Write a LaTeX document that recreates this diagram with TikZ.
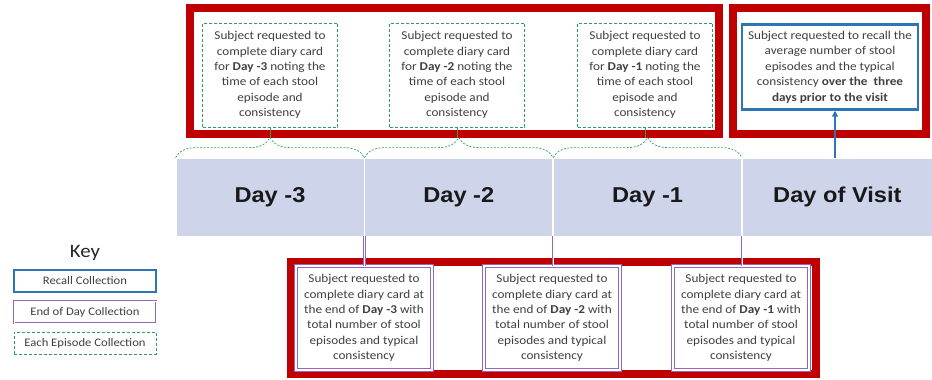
\documentclass[tikz,border=0pt]{standalone}
\usepackage{fontspec}
\setmainfont{Carlito}[FakeStretch=1.1]
\newfontfamily\dayfont{Liberation Sans}[FakeStretch=1.1]
\usepackage{xcolor}
\usetikzlibrary{positioning,arrows.meta,decorations.pathreplacing}

\definecolor{framered}{RGB}{192,0,0}
\definecolor{episodegreen}{RGB}{46,158,96}
\definecolor{recallblue}{RGB}{46,117,182}
\definecolor{eodpurple}{RGB}{146,104,186}
\definecolor{dayfill}{RGB}{206,212,234}
\definecolor{boxtext}{RGB}{64,64,64}

\begin{document}
\begin{tikzpicture}[x=1pt, y=-1pt, semithick, inner sep=2pt,
    frame/.style={draw=framered, line width=8pt},
    episode/.style={draw=episodegreen, dashed, dash pattern=on 3pt off 2pt, thick, fill=white,
      minimum width=135, minimum height=104, align=center, text=boxtext,
      font=\fontsize{12}{15.4}\selectfont},
    endofday/.style={draw=eodpurple, double=white, double distance=1.2pt, line width=1pt, fill=white,
      minimum width=136, minimum height=104, align=center, text=boxtext,
      font=\fontsize{12}{15.4}\selectfont},
    recall/.style={draw=recallblue, line width=2.4pt, fill=white,
      minimum width=176, minimum height=85, align=center, text=boxtext,
      font=\fontsize{12}{15.4}\selectfont},
    day/.style={fill=dayfill, draw=white, line width=0.8pt, minimum width=188, minimum height=78,
      font=\dayfont\bfseries\fontsize{21.5}{24}\selectfont, text=black!90},
    bracket/.style={draw=episodegreen, line width=0.7pt, dashed, dash pattern=on 2pt off 1.5pt,
      decorate, decoration={brace, amplitude=20pt}},
    eodlink/.style={draw=eodpurple, double=white, double distance=0.8pt, line width=0.8pt},
    keybox/.style={minimum width=142, minimum height=22, align=center, text=boxtext,
      font=\fontsize{11.5}{13}\selectfont}]

  \useasboundingbox (0,0) rectangle (932,380);

  % red frames
  \draw[frame] (190,8) rectangle (719,134);
  \draw[frame] (733,8) rectangle (926,134);
  \draw[frame] (291,262) rectangle (816,374);

  % timeline
  \node[day] (d3) at (270,197) {Day -3};
  \node[day, right=0pt of d3] (d2) {Day -2};
  \node[day, right=0pt of d2] (d1) {Day -1};
  \node[day, right=0pt of d1, minimum width=190] (d0) {Day of Visit};

  % each episode collection
  \node[episode] (ep3) at (270,75) {Subject requested to\\complete diary card\\for \textbf{Day -3} noting the\\time of each stool\\episode and\\consistency};
  \node[episode] (ep2) at (457,75) {Subject requested to\\complete diary card\\for \textbf{Day -2} noting the\\time of each stool\\episode and\\consistency};
  \node[episode] (ep1) at (645,75) {Subject requested to\\complete diary card\\for \textbf{Day -1} noting the\\time of each stool\\episode and\\consistency};

  % recall collection
  \node[recall] (rc) at (830,67) {Subject requested to recall the\\average number of stool\\episodes and the typical\\consistency \textbf{over the\ \ three}\\\textbf{days prior to the visit}};

  % end of day collection
  \node[endofday] (eod3) at (364,318) {Subject requested to\\complete diary card at\\the end of \textbf{Day -3} with\\total number of stool\\episodes and typical\\consistency};
  \node[endofday] (eod2) at (552,318) {Subject requested to\\complete diary card at\\the end of \textbf{Day -2} with\\total number of stool\\episodes and typical\\consistency};
  \node[endofday] (eod1) at (741,318) {Subject requested to\\complete diary card at\\the end of \textbf{Day -1} with\\total number of stool\\episodes and typical\\consistency};

  % brackets over the days
  \draw[bracket] (d3.north west) -- (d3.north east);
  \draw[bracket] (d2.north west) -- (d2.north east);
  \draw[bracket] (d1.north west) -- (d1.north east);
  \draw[episodegreen, thin] (ep3.south) -- ++(0,11);
  \draw[episodegreen, thin] (ep2.south) -- ++(0,11);
  \draw[episodegreen, thin] (ep1.south) -- ++(0,11);

  % links
  \draw[recallblue, line width=2pt, -{Triangle[length=6pt,width=6pt]}] (d0.north -| rc.south) ++(5,0) coordinate (rcfoot) -- (rcfoot |- rc.south);
  \draw[eodlink] (d3.south east) -- (d3.south east |- eod3.north);
  \draw[eodlink] (d2.south east) -- (d2.south east |- eod2.north);
  \draw[eodlink] (d1.south east) -- (d1.south east |- eod1.north);

  % key
  \node[font=\fontsize{19}{22}\selectfont, text=black!85] (key) at (85,253) {Key};
  \node[keybox, draw=recallblue, line width=2pt] (k1) at (85,281) {Recall Collection};
  \node[keybox, draw=eodpurple, double=white, double distance=1pt, line width=0.8pt] (k2) at (85,312) {End of Day Collection};
  \node[keybox, draw=episodegreen, dashed, dash pattern=on 3pt off 2pt, thick] (k3) at (85,343) {Each Episode Collection};
\end{tikzpicture}
\end{document}
